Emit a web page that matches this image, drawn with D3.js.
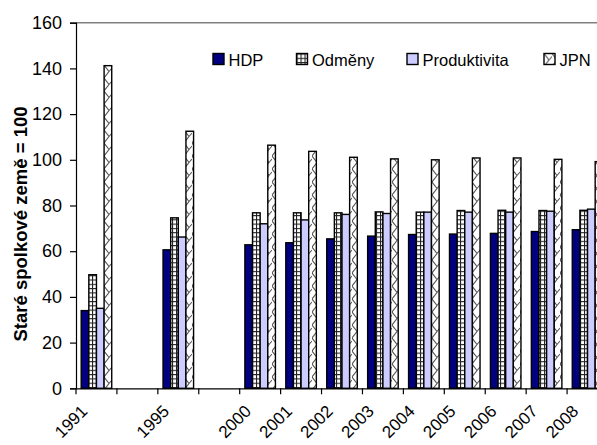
<!DOCTYPE html>
<html><head><meta charset="utf-8">
<script src="https://cdn.jsdelivr.net/npm/d3@7"></script>
<style>body{margin:0;background:#fff;overflow:hidden} text{font-family:Arial,"Liberation Sans",sans-serif;fill:#000}</style>
</head><body><svg id="c" width="597" height="445"></svg>
<script>
const categories = ["1991","","1995","","2000","2001","2002","2003","2004","2005","2006","2007","2008"];
const seriesNames = ["HDP","Odměny","Produktivita","JPN"];
const hdp = [34.0,null,60.6,null,62.8,63.7,65.4,66.6,67.3,67.5,67.8,68.6,69.4];
const odmeny = [49.7,null,74.6,null,76.8,76.8,76.8,77.2,77.1,77.8,77.9,77.8,77.9];
const produktivita = [35.0,null,66.2,null,72.0,73.7,76.1,76.5,77.1,77.1,77.1,77.5,78.4];
const jpn = [141.2,null,112.5,null,106.4,103.7,101.1,100.4,100.0,100.8,100.8,100.2,99.2];
const yTicks = [0,20,40,60,80,100,120,140,160];
const yTitle = "Staré spolkové země = 100";

const seriesValues = [hdp, odmeny, produktivita, jpn];
const fills = ["#000080","url(#pOdm)","#CCCCFF","url(#pJpn)"];

const svg = d3.select("#c");
const defs = svg.append("defs");
const p1 = defs.append("pattern").attr("id","pOdm").attr("patternUnits","userSpaceOnUse")
  .attr("width",4).attr("height",4.3);
p1.append("rect").attr("width",4).attr("height",4.3).attr("fill","#fff");
p1.append("path").attr("d","M0,0.5H4M0.5,0V4.3").attr("stroke","#222").attr("stroke-width",1.2);
const p2 = defs.append("pattern").attr("id","pJpn").attr("patternUnits","userSpaceOnUse")
  .attr("width",8).attr("height",13);
p2.append("rect").attr("width",8).attr("height",13).attr("fill","#fff");
p2.append("path").attr("d","M0,0L5,6.5L0,13M5,6.5L8,3").attr("stroke","#555").attr("stroke-width",1.1).attr("fill","none");

const mLeft = 76, mRight = 608, mTop = 22.7, mBottom = 388.3;
const x0 = d3.scaleBand().domain(d3.range(categories.length)).range([mLeft, mRight]).padding(0);
const x1 = d3.scaleBand().domain(seriesNames).range([0, x0.bandwidth()]).paddingInner(0).paddingOuter(0.68);
const y = d3.scaleLinear().domain([0,160]).range([mBottom, mTop]);

// plot top border
svg.append("line").attr("x1",mLeft).attr("x2",mRight).attr("y1",mTop).attr("y2",mTop)
  .attr("stroke","#808080").attr("stroke-width",1.5);

// bars
seriesNames.forEach((s, si) => {
  svg.append("g").selectAll("rect")
    .data(seriesValues[si].map((v,i)=>({v,i})).filter(d=>d.v!=null))
    .join("rect")
    .attr("x", d => x0(d.i) + x1(s))
    .attr("width", x1.bandwidth())
    .attr("y", d => y(d.v))
    .attr("height", d => y(0) - y(d.v))
    .attr("fill", fills[si])
    .attr("stroke", "#000").attr("stroke-width", 1.4);
});

// y axis
const yAxis = d3.axisLeft(y).tickValues(yTicks).tickSize(6).tickPadding(8);
const gy = svg.append("g").attr("transform",`translate(${mLeft},0)`).call(yAxis);
gy.select(".domain").attr("stroke","#000").attr("stroke-width",1.2);
gy.selectAll(".tick line").attr("stroke","#000").attr("stroke-width",1.2);
gy.selectAll(".tick text").attr("font-size",18).attr("font-family","Arial, 'Liberation Sans', sans-serif").attr("fill","#000");

// x axis
const xAxis = d3.axisBottom(x0).tickSize(0).tickFormat(()=>"");
const gx = svg.append("g").attr("transform",`translate(0,${mBottom})`).call(xAxis);
gx.select(".domain").attr("stroke","#000").attr("stroke-width",1.2);
gx.selectAll(".tick").remove();
const bounds = d3.range(categories.length+1).map(i => mLeft + i*x0.step());
gx.selectAll("line.b").data(bounds).join("line").attr("class","b")
  .attr("x1",d=>d).attr("x2",d=>d).attr("y1",0).attr("y2",6)
  .attr("stroke","#000").attr("stroke-width",1.2);
svg.append("g").selectAll("text").data(categories.map((c,i)=>({c,i})).filter(d=>d.c))
  .join("text")
  .attr("transform", d => `translate(${x0(d.i)+x0.bandwidth()/2-8},${mBottom+24}) rotate(-45)`)
  .attr("text-anchor","end")
  .attr("font-size",17)
  .text(d=>d.c);

// y title
svg.append("text").attr("transform","translate(27,224) rotate(-90)")
  .attr("text-anchor","middle").attr("font-weight","bold").attr("font-size",18.5)
  .text(yTitle);

// legend
const legX = [213, 296.5, 407, 544];
const lg = svg.append("g").selectAll("g").data(seriesNames).join("g")
  .attr("transform",(d,i)=>`translate(${legX[i]},53.5)`);
lg.append("rect").attr("width",11).attr("height",11)
  .attr("fill",(d,i)=>fills[i]).attr("stroke","#000").attr("stroke-width",1.4);
lg.append("text").attr("x",15.5).attr("y",12.5).attr("font-size",16.5).text(d=>d);
</script></body></html>
